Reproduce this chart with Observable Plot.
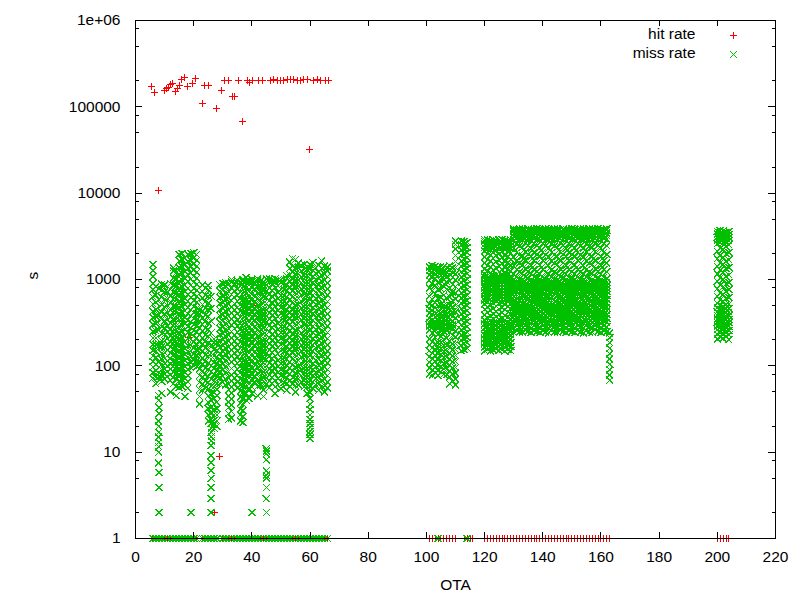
<!DOCTYPE html>
<html><head><meta charset="utf-8">
<script src="https://cdn.jsdelivr.net/npm/d3@7"></script>
<script src="https://cdn.jsdelivr.net/npm/@observablehq/plot@0.6"></script>
<style>html,body{margin:0;padding:0;background:#fff}</style>
</head><body><div id="chart"></div>
<script>
// ---------- axis ticks ----------
const xTicks = [0, 20, 40, 60, 80, 100, 120, 140, 160, 180, 200, 220];
const yTicks = [1, 10, 100, 1000, 10000, 100000, 1000000];
const yTickLabels = ["1", "10", "100", "1000", "10000", "100000", "1e+06"];
const yMinorTicks = [2, 5, 8, 20, 50, 80, 200, 500, 800, 2000, 5000, 8000, 20000, 50000, 80000, 200000, 500000, 800000];
const legendLabels = ["hit rate", "miss rate"];
const xLabel = "OTA";
const yLabel = "s";

// ---------- hit rate (red +) ----------
const hitPoints = [
  [5.5,172000],[6.6,146000],[8,10700],[10,155000],[10.5,162000],[11.5,169000],[12.1,181000],[12.8,188000],
  [13.8,152000],[14.4,162000],[15.1,176000],[15.8,210000],[16.9,217000],[17.8,172000],[19.5,188000],[20.6,215000],
  [22.9,108000],[23.8,177000],[25,177000],[27.8,95000],[29.6,155000],[30.7,202000],[31.9,202000],[33.2,132000],
  [34.1,132000],[35.5,202000],[36.9,67600],[38.4,202000],[39.2,190000],[40.1,202000],[42.4,202000],[43.5,202000],
  [46.4,202000],[47.6,205000],[48.7,202000],[49.8,202000],[51,202000],[52.1,205000],[53.3,205000],[54.4,205000],
  [55.6,202000],[56.7,200000],[57.9,205000],[59,205000],[59.8,31800],[61.3,202000],[62.5,205000],[63.6,202000],
  [65.3,202000],[66.5,202000],
  [27,2],[29,9],[18.2,213],[40.6,500]
];
const hitBaseOTA = [6,7,8,9,10,11,12,13,14,15,16,17,18,19,20,21,23,24,25,26,27,28,30,31,32,33,34,35,36,37,38,39,40,
  41,42,43,44,45,46,47,48,49,50,51,52,53,54,55,56,57,58,59,60,61,62,63,64,65,66,
  101,102,103,104,105,106,107,108,109,110,113,114,115,116,
  120,121,122,123,124,125,126,127,128,129,130,131,132,133,134,135,136,137,138,139,140,141,142,143,144,145,146,
  147,148,149,150,151,152,153,154,155,156,157,158,159,160,161,162,163,200,201,202,203,204];

// ---------- miss rate (green x) ----------
const missBaseOTA = [6,7,8,9,10,11,12,13,14,15,16,17,18,19,20,21,23,24,25,26,27,28,30,31,32,33,34,35,36,37,38,39,40,
  41,42,43,44,45,46,47,48,49,50,51,52,53,54,55,56,57,58,59,60,61,62,63,64,65,66,104,114];

const missLeft = [
  [6,[72,84,97,112,130,150,178,210,250,300,360,430,520,630,760,900,1080,1280,1500]],
  [7,[62,74,88,104,125,148,176,210,255,310,375,450,545,660,820]],
  [8,[2,3.9,5.8,7.5,10,11.5,13,15,17,20,23,28,33,40,45,75,110,170,260,390,580,780]],
  [9,[48,66,78,90,104,120,140,165,195,235,285,345,420,510,620,750,880]],
  [10,[70,80,92,106,122,142,166,196,232,276,330,400,485,590,720,860]],
  [11,[75,86,99,114,132,153,178,208,245,290,345,415,500,600,720,830]],
  [12,[50,68,79,91,105,121,140,163,190,222,262,310,370,440,530,640,770,900]],
  [13,[62,73,85,99,115,134,156,182,213,250,295,350,415,495,590,710,860,1040,1250,1370]],
  [14,[45,58,70,82,96,112,131,153,179,210,247,292,346,410,488,580,690,830,1000,1200]],
  [15,[56,67,79,93,109,128,150,176,207,244,288,340,402,476,565,670,800,960,1150,1380,1650,1950]],
  [16,[58,69,81,95,112,131,154,181,213,251,296,350,414,490,582,692,825,985,1180,1420,1700,2000]],
  [17,[44,60,71,84,99,116,136,160,188,221,261,308,364,431,511,607,722,860,1030,1230,1480,1780]],
  [18,[55,65,77,91,107,126,148,174,205,242,286,338,400,474,562,668,795,948,1130,1350,1620,1940]],
  [19,[2,95,110,128,149,174,203,237,277,324,380,446,524,616,725,855,1010,1190,1410,1670,2000]],
  [20,[100,117,137,160,187,219,257,301,353,414,486,571,671,789,928,1090,1280,1510,1780,2050]],
  [21,[98,114,133,155,181,211,247,289,338,396,464,544,638,749,880,1030,1210,1420,1670,1950]],
  [22,[36,44,53,64,77,92,110,132,158,190,228,274,330,400,440]],
  [23,[52,62,74,88,105,125,149,178,212,253,302,360,430,513,612,730,860]],
  [24,[55,66,79,94,112,134,160,191,228,272,325,388,463,553,660,790]],
  [25,[23,27,32,38,45,54,64,76,91,108,129,154,184,220,263,314,375,448,535,640,760,850]],
  [26,[2,2.9,3.9,5,6.1,7.6,9.1,12,13.5,15,17,19,21.5,24,28,33,40,48,58,70,85,100,130,175,240,330,460,640]],
  [27,[19,21,23.5,27,31,36,42,49,57,67,79,93,110,130,155,185,205]],
  [28,[20,23,27,32,38,45,53,63,75,89,106,126,150,185]],
  [29,[62,73,86,101,119,140,165,195,230,271,320,378,446,527,622,735,870]],
  [30,[65,76,89,105,123,145,171,201,237,279,329,388,457,539,636,750,900]],
  [31,[60,71,84,99,116,137,161,190,224,264,311,367,433,511,603,712,840,920]],
  [32,[24,28,33,38,45,53,62,73,86,101,119,140,165,194,229,270,318,375,442,521,614,724,880]],
  [33,[25,29.5,35,41,48,57,67,79,93,110,130,153,180,212,250,295,348,410,484,570,672,793,935,1000]],
  [34,[62,73,86,101,119,140,165,195,230,271,320,378,446,527,622,735,890]],
  [35,[55,65,77,91,107,126,149,175,207,244,288,340,401,473,558,658,777,920,980]],
  [36,[23,27,31.5,37,43.5,51,60,71,83,98,115,136,160,189,223,263,310,366,432,510,602,710,838,930]],
  [37,[22,26,30.5,36,42,50,59,69,81,96,113,133,157,185,218,257,303,358,422,498,588,694,819,966,1000]],
  [38,[40,48,57,67,79,93,110,130,153,181,213,252,297,350,413,487,575,678,800,944,1050]],
  [39,[42,55,65,77,91,107,126,149,175,207,244,288,340,401,473,558,658,777,917,980]],
  [40,[2,48,57,67,79,93,110,130,153,181,213,252,297,350,413,487,575,678,800,944,1000]],
  [41,[65,77,90,107,126,148,175,206,243,287,339,400,472,557,657,775,915]],
  [42,[45,58,68,81,95,112,133,157,185,218,257,303,358,422,498,588,694,819,966,1020]],
  [43,[60,71,84,99,116,137,161,190,224,264,311,367,433,511,603,712,840,960]],
  [44,[44,52,61,72,85,101,119,140,165,195,230,272,320,378,446,527,622,733,865,939]],
  [45,[2,2.9,3.9,5,5.4,6.1,8.2,9.6,10.3,11,62,73,86,101,119,140,165,195,230,271,320,378,446,527,622,735,868,1020]],
  [46,[56,66,78,92,108,128,151,178,210,248,292,345,407,480,567,669,789,931,1010]],
  [47,[63,74,88,103,122,144,170,200,236,279,329,388,458,540,637,752,888,960]],
  [48,[48,57,67,79,93,110,130,153,181,213,252,297,350,413,487,575,678,800,944,1020]],
  [49,[60,71,84,99,116,137,161,190,224,264,311,367,433,511,603,712,840,990]],
  [50,[55,65,77,91,107,126,149,175,207,244,288,340,401,473,558,658,777,917,990]],
  [51,[64,76,89,105,124,146,173,204,240,284,335,395,466,550,649,766,904]],
  [52,[52,61,72,85,101,119,140,165,195,230,272,320,378,446,527,622,733,865,1020,1100]],
  [53,[58,68,81,95,112,133,157,185,218,257,303,358,422,498,588,694,819,966,1140,1350,1600]],
  [54,[62,73,86,101,119,140,165,195,230,271,320,378,446,527,622,735,868,1020,1210,1420,1750]],
  [55,[50,59,70,82,97,115,135,160,188,222,262,309,365,431,508,600,708,835,985,1160,1370,1700]],
  [56,[60,71,84,99,116,137,161,190,224,264,311,367,433,511,603,712,840,990,1170,1380,1550]],
  [57,[65,77,90,107,126,148,175,206,243,287,339,400,472,557,657,775,915,1080,1270,1460]],
  [58,[57,67,79,93,110,130,153,181,213,252,297,350,413,487,575,678,800,944,1110,1310,1500]],
  [59,[48,57,67,79,93,110,130,153,181,213,252,297,350,413,487,575,678,800,944,1110,1310,1400]],
  [60,[14.5,16,17.5,19.5,21.5,24,27,31,36,42,49,58,68,80,94,111,131,155,183,216,255,301,355,419,494,583,688,812,958,1130,1330,1500]],
  [61,[55,65,77,91,107,126,149,175,207,244,288,340,401,473,558,658,777,917,1080,1280,1560]],
  [62,[60,71,84,99,116,137,161,190,224,264,311,367,433,511,603,712,840,990,1170,1360]],
  [63,[52,61,72,85,101,119,140,165,195,230,272,320,378,446,527,622,733,865,1020,1210,1460]],
  [64,[58,68,81,95,112,133,157,185,218,257,303,358,422,498,588,694,819,966,1140,1350,1650]],
  [65,[50,59,70,82,97,115,135,160,188,222,262,309,365,431,508,600,708,835,985,1160,1430]],
  [66,[55,65,77,91,107,126,149,175,207,244,288,340,401,473,558,658,777,917,1080,1250,1400]]
];

const missMiddle = [
  [101,[80,94,110,128,150,175,205,260,290,320,355,410,460,520,640,800,980,1120,1260,1400]],
  [102,[78,90,104,120,140,162,190,240,275,305,340,395,440,500,590,740,900,1080,1200,1350,1450]],
  [103,[82,96,112,132,155,180,215,265,295,330,370,420,480,540,680,850,1040,1150,1300,1420]],
  [104,[77,88,100,118,138,160,185,230,270,300,335,385,430,495,600,760,930,1100,1230,1380]],
  [105,[85,98,115,135,158,185,220,262,292,325,360,405,455,515,620,780,960,1130,1280,1430]],
  [106,[80,92,106,124,146,170,200,250,280,315,350,400,450,505,660,820,1000,1110,1250,1400]],
  [107,[79,91,108,126,148,172,210,255,285,318,352,398,445,510,610,770,940,1090,1220,1370]],
  [108,[62,75,87,102,120,142,168,195,245,278,310,345,392,438,500,630,790,970,1140,1290,1440]],
  [109,[66,80,95,112,130,152,178,225,268,298,332,375,425,485,570,720,880,1060,1200,1350]],
  [110,[60,70,82,96,112,132,155,182,215,255,300,355,420,500,590,700,830,980,1160,1380,1620,1900,2250,2550,2800]],
  [112,[150,172,198,228,262,300,345,400,460,530,610,700,810,930,1070,1230,1420,1640,1900,2200,2500,2800]],
  [113,[155,180,205,235,272,312,360,415,478,550,635,730,840,970,1120,1290,1480,1710,1970,2270,2600,2750]],
  [114,[160,185,212,245,282,325,375,432,498,572,660,760,875,1010,1160,1340,1540,1780,2050,2360,2700]],
  [120,[150,166,184,204,226,250,277,307,340,390,450,520,575,620,670,720,800,860,925,995,1070,1150,1330,1560,1830,2150,2350,2550,2750,2900]],
  [121,[155,172,190,211,234,259,287,318,360,415,480,550,600,650,700,760,830,895,960,1030,1110,1250,1450,1700,2000,2250,2450,2650,2850]],
  [122,[148,162,180,200,222,246,272,302,335,380,440,505,585,635,685,740,810,870,940,1010,1090,1200,1400,1640,1920,2200,2400,2600,2800]],
  [123,[152,169,187,207,230,255,282,312,350,400,460,530,590,640,690,745,815,880,950,1020,1100,1280,1500,1760,2060,2300,2500,2700,2900]],
  [124,[158,175,194,215,238,264,292,324,370,425,490,560,610,660,710,770,840,905,975,1045,1130,1350,1600,1900,2180,2400,2600,2800]],
  [125,[150,166,184,204,226,250,277,307,345,395,455,525,580,625,675,730,805,865,930,1000,1080,1230,1430,1680,1980,2250,2450,2650,2880]],
  [126,[153,170,188,208,231,256,283,314,355,410,470,540,595,645,695,750,820,885,955,1025,1105,1300,1520,1790,2100,2320,2520,2720,2900]],
  [127,[148,164,182,202,224,248,275,305,338,385,445,515,578,628,678,735,808,868,935,1005,1085,1180,1380,1620,1900,2200,2420,2620,2820]],
  [128,[156,173,192,213,236,261,289,320,365,420,485,555,605,655,705,765,835,900,970,1040,1120,1320,1560,1840,2120,2360,2560,2760]],
  [129,[150,167,185,205,228,252,279,310,348,398,458,528,588,638,688,742,812,875,945,1015,1095,1260,1470,1720,2020,2280,2480,2680,2880]],
  [130,[242,275,312,345,382,422,466,515,568,640,710,770,835,905,985,1150,1450,1830,2300,2850,3120,3380,3640,3850]],
  [131,[256,292,330,364,402,444,490,541,600,670,740,802,870,945,1060,1300,1640,2060,2580,2980,3250,3510,3760]],
  [132,[248,283,320,354,391,432,478,528,584,655,725,786,852,925,1020,1220,1540,1940,2440,2920,3190,3450,3700,3880]],
  [133,[245,278,315,348,385,425,470,520,572,645,715,775,840,910,990,1170,1480,1860,2340,2870,3140,3400,3660,3860]],
  [134,[260,296,334,368,406,448,495,546,605,675,745,808,876,950,1070,1320,1660,2090,2620,3000,3270,3530,3780]],
  [135,[250,286,323,357,394,435,481,531,588,660,730,790,856,930,1030,1240,1560,1970,2470,2940,3210,3470,3720,3870]],
  [136,[243,276,313,346,383,423,468,517,570,642,712,772,838,908,988,1160,1460,1840,2310,2860,3130,3390,3650,3840]],
  [137,[258,294,332,366,404,446,492,543,602,672,742,805,873,948,1065,1310,1650,2070,2600,2990,3260,3520,3770]],
  [138,[249,284,321,355,392,433,479,529,586,657,727,788,854,927,1025,1230,1550,1950,2450,2930,3200,3460,3710,3880]],
  [139,[244,277,314,347,384,424,469,518,571,643,713,773,839,909,989,1165,1470,1850,2320,2860,3130,3390,3650,3850]],
  [140,[257,293,331,365,403,445,491,542,601,671,741,803,871,946,1062,1305,1645,2065,2590,2985,3255,3515,3765]],
  [141,[247,282,319,353,390,431,477,527,583,654,724,785,851,924,1018,1215,1535,1935,2435,2915,3185,3445,3695,3880]],
  [142,[242,275,312,345,382,422,466,515,568,640,710,770,835,905,985,1150,1450,1830,2300,2850,3120,3380,3640,3850]],
  [143,[256,292,330,364,402,444,490,541,600,670,740,802,870,945,1060,1300,1640,2060,2580,2980,3250,3510,3760]],
  [144,[248,283,320,354,391,432,478,528,584,655,725,786,852,925,1020,1220,1540,1940,2440,2920,3190,3450,3700,3880]],
  [145,[245,278,315,348,385,425,470,520,572,645,715,775,840,910,990,1170,1480,1860,2340,2870,3140,3400,3660,3860]],
  [146,[260,296,334,368,406,448,495,546,605,675,745,808,876,950,1070,1320,1660,2090,2620,3000,3270,3530,3780]],
  [147,[250,286,323,357,394,435,481,531,588,660,730,790,856,930,1030,1240,1560,1970,2470,2940,3210,3470,3720,3870]],
  [148,[243,276,313,346,383,423,468,517,570,642,712,772,838,908,988,1160,1460,1840,2310,2860,3130,3390,3650,3840]],
  [149,[258,294,332,366,404,446,492,543,602,672,742,805,873,948,1065,1310,1650,2070,2600,2990,3260,3520,3770]],
  [150,[249,284,321,355,392,433,479,529,586,657,727,788,854,927,1025,1230,1550,1950,2450,2930,3200,3460,3710,3880]],
  [151,[244,277,314,347,384,424,469,518,571,643,713,773,839,909,989,1165,1470,1850,2320,2860,3130,3390,3650,3850]],
  [152,[257,293,331,365,403,445,491,542,601,671,741,803,871,946,1062,1305,1645,2065,2590,2985,3255,3515,3765]],
  [153,[247,282,319,353,390,431,477,527,583,654,724,785,851,924,1018,1215,1535,1935,2435,2915,3185,3445,3695,3880]],
  [154,[242,275,312,345,382,422,466,515,568,640,710,770,835,905,985,1150,1450,1830,2300,2850,3120,3380,3640,3850]],
  [155,[256,292,330,364,402,444,490,541,600,670,740,802,870,945,1060,1300,1640,2060,2580,2980,3250,3510,3760]],
  [156,[248,283,320,354,391,432,478,528,584,655,725,786,852,925,1020,1220,1540,1940,2440,2920,3190,3450,3700,3880]],
  [157,[245,278,315,348,385,425,470,520,572,645,715,775,840,910,990,1170,1480,1860,2340,2870,3140,3400,3660,3860]],
  [158,[260,296,334,368,406,448,495,546,605,675,745,808,876,950,1070,1320,1660,2090,2620,3000,3270,3530,3780]],
  [159,[250,286,323,357,394,435,481,531,588,660,730,790,856,930,1030,1240,1560,1970,2470,2940,3210,3470,3720,3870]],
  [160,[243,276,313,346,383,423,468,517,570,642,712,772,838,908,988,1160,1460,1840,2310,2860,3130,3390,3650,3840]],
  [161,[258,294,332,366,404,446,492,543,602,672,742,805,873,948,1065,1310,1650,2070,2600,2990,3260,3520,3770]],
  [162,[249,284,321,355,392,433,479,529,586,657,727,788,854,927,1025,1230,1550,1950,2450,2930,3200,3460,3710,3880]],
  [163,[68,78,90,104,120,138,160,185,212,240]]
];

const missRight = [
  [200,[205,232,262,290,318,350,385,425,470,530,640,780,950,1160,1420,1740,2120,2600,2850,3100,3350,3600]],
  [201,[215,245,275,305,335,368,405,448,500,580,700,860,1050,1280,1560,1900,2320,2700,2950,3220,3480,3700]],
  [202,[208,238,268,298,326,360,395,436,485,555,670,820,1000,1220,1490,1820,2220,2650,2900,3160,3420,3650]],
  [203,[220,250,280,310,342,376,414,458,510,600,730,890,1090,1330,1620,1980,2420,2750,3000,3280,3530]],
  [204,[200,228,258,288,315,346,380,420,465,520,620,760,930,1130,1380,1690,2060,2520,2800,3060,3320,3580]]
];

// ---------- build tables ----------
const hitData = hitPoints.map(([ota, v]) => ({ota, v}))
  .concat(hitBaseOTA.map(ota => ({ota, v: 1})));
const missData = [];
for (const cols of [missLeft, missMiddle, missRight])
  for (const [ota, vals] of cols) for (const v of vals) missData.push({ota, v});
for (const ota of missBaseOTA) missData.push({ota, v: 1});

// gnuplot-like point symbols
const plusSym = {draw(c) { c.moveTo(-3.5, 0); c.lineTo(3.5, 0); c.moveTo(0, -3.5); c.lineTo(0, 3.5); }};
const timesSym = {draw(c) { c.moveTo(-3.5, -3.5); c.lineTo(3.5, 3.5); c.moveTo(-3.5, 3.5); c.lineTo(3.5, -3.5); }};

const W = 800, H = 600, mL = 135, mR = 25, mT = 20, mB = 62;
const pw = W - mL - mR, ph = H - mT - mB;
const RED = "#ff0000", GREEN = "#00c000";

const chart = Plot.plot({
  width: W, height: H,
  marginLeft: mL, marginRight: mR, marginTop: mT, marginBottom: mB,
  x: {domain: [0, 220], axis: null},
  y: {type: "log", domain: [1, 1e6], axis: null},
  style: {fontFamily: "'Liberation Sans', Arial, sans-serif", fontSize: "15.5px", background: "#fff", color: "#000"},
  marks: [
    Plot.dot(hitData, {x: "ota", y: "v", symbol: plusSym, stroke: RED, fill: "none", strokeWidth: 1, shapeRendering: "crispEdges"}),
    Plot.dot(missData, {x: "ota", y: "v", symbol: timesSym, stroke: GREEN, fill: "none", strokeWidth: 1.2, shapeRendering: "crispEdges"}),
    // y ticks left & right (inward)
    Plot.tickY(yTicks, {y: d => d, insetRight: pw - 7, stroke: "#000", shapeRendering: "crispEdges"}),
    Plot.tickY(yTicks, {y: d => d, insetLeft: pw - 7, stroke: "#000", shapeRendering: "crispEdges"}),
    Plot.tickY(yMinorTicks, {y: d => d, insetRight: pw - 3.5, stroke: "#000", shapeRendering: "crispEdges"}),
    Plot.tickY(yMinorTicks, {y: d => d, insetLeft: pw - 3.5, stroke: "#000", shapeRendering: "crispEdges"}),
    // x ticks bottom & top (inward)
    Plot.tickX(xTicks, {x: d => d, insetTop: ph - 6, stroke: "#000", shapeRendering: "crispEdges"}),
    Plot.tickX(xTicks, {x: d => d, insetBottom: ph - 6, stroke: "#000", shapeRendering: "crispEdges"}),
    Plot.frame({stroke: "#000", strokeWidth: 1, shapeRendering: "crispEdges"}),
    // tick labels
    Plot.text(yTicks, {y: d => d, text: (d, i) => yTickLabels[i], frameAnchor: "left", dx: -15, textAnchor: "end", lineAnchor: "middle", fill: "#000"}),
    Plot.text(xTicks, {x: d => d, text: d => String(d), frameAnchor: "bottom", dy: 19, lineAnchor: "middle", fill: "#000"}),
    // axis titles
    Plot.text([xLabel], {text: d => d, frameAnchor: "bottom", dy: 47, lineAnchor: "middle", fill: "#000"}),
    Plot.text([yLabel], {text: d => d, frameAnchor: "left", dx: -102, rotate: -90, lineAnchor: "middle", fill: "#000"}),
    // key
    Plot.text([legendLabels[0]], {text: d => d, frameAnchor: "top-right", dx: -80, dy: 13.5, textAnchor: "end", lineAnchor: "middle", fill: "#000"}),
    Plot.text([legendLabels[1]], {text: d => d, frameAnchor: "top-right", dx: -80, dy: 32.5, textAnchor: "end", lineAnchor: "middle", fill: "#000"}),
    Plot.dot([legendLabels[0]], {frameAnchor: "top-right", dx: -42, dy: 15, symbol: plusSym, stroke: RED, fill: "none", strokeWidth: 1, shapeRendering: "crispEdges"}),
    Plot.dot([legendLabels[1]], {frameAnchor: "top-right", dx: -42, dy: 34, symbol: timesSym, stroke: GREEN, fill: "none", strokeWidth: 1, shapeRendering: "crispEdges"})
  ]
});
document.getElementById("chart").appendChild(chart);
</script></body></html>
